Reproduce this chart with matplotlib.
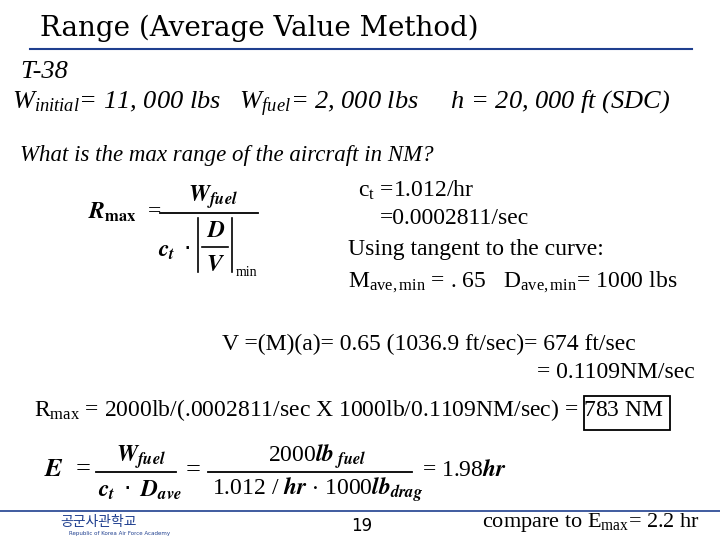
import matplotlib
matplotlib.use("Agg")
import matplotlib.pyplot as plt
from matplotlib.patches import Rectangle

plt.rcParams["mathtext.fontset"] = "stix"
plt.rcParams["mathtext.default"] = "regular"
SERIF = ["Liberation Serif", "DejaVu Serif"]

# slide text lines (x, y in pixels from top-left, text, size, style)
title = "Range (Average Value Method)"
given = [
    (20, 72, "T-38", 19, "italic"),
    (12, 104, r"W$_{initial}$= 11, 000 lbs   W$_{fuel}$= 2, 000 lbs     h = 20, 000 ft (SDC)", 19, "italic"),
    (20, 155, "What is the max range of the aircraft in NM?", 16.5, "italic"),
]
right_lines = [
    (358, 190, r"c$_t$ =1.012/hr", 17),
    (380, 218, "=0.0002811/sec", 17),
    (348, 250, "Using tangent to the curve:", 17),
    (348, 282, r"M$_{ave, min}$ = . 65   D$_{ave, min}$= 1000 lbs", 17),
]
calc_lines = [
    (222, 344, "V =(M)(a)= 0.65 (1036.9 ft/sec)= 674 ft/sec", 17, "left"),
    (695, 372, "= 0.1109NM/sec", 17, "right"),
    (34, 410, r"R$_{max}$ = 2000lb/(.0002811/sec X 1000lb/0.1109NM/sec) = 783 NM", 17, "left"),
]

fig = plt.figure(figsize=(7.2, 5.4), dpi=100, facecolor="white")
ax = fig.add_axes([0, 0, 1, 1])
ax.set_xlim(0, 720)
ax.set_ylim(540, 0)
ax.axis("off")

ax.text(40, 28, title, fontsize=20, family="DejaVu Serif", va="center", ha="left")
ax.plot([30, 692], [49, 49], color="#1f3f8f", lw=1.5)

for x, y, s, sz, st in given:
    ax.text(x, y, s, fontsize=sz, family=SERIF, style=st, va="center", ha="left")

# R_max formula
ax.text(88, 212, r"$\mathbfit{R}_{\mathbf{max}}$  =", fontsize=17, va="center", family=SERIF)
ax.text(188, 197, r"$\mathbfit{W_{fuel}}$", fontsize=17, va="center")
ax.plot([160, 258], [213, 213], color="black", lw=1.3)
ax.text(158, 250, r"$\mathbfit{c_t}\ \cdot$", fontsize=17, va="center")
ax.text(206, 230, r"$\mathbfit{D}$", fontsize=17, va="center")
ax.plot([202, 228], [247, 247], color="black", lw=1.2)
ax.text(206, 264, r"$\mathbfit{V}$", fontsize=17, va="center")
ax.plot([198, 198], [218, 272], color="black", lw=1.2)
ax.plot([232, 232], [218, 272], color="black", lw=1.2)
ax.text(236, 272, "min", fontsize=10, family=SERIF, va="center")

for x, y, s, sz in right_lines:
    ax.text(x, y, s, fontsize=sz, family=SERIF, va="center", ha="left")
for x, y, s, sz, ha in calc_lines:
    ax.text(x, y, s, fontsize=sz, family=SERIF, va="center", ha=ha)
ax.add_patch(Rectangle((584, 396), 86, 34, fill=False, lw=1.3, ec="black"))

# Endurance formula
ax.text(44, 470, r"$\mathbfit{E}$  =", fontsize=19, va="center", family=SERIF)
ax.text(116, 457, r"$\mathbfit{W_{fuel}}$", fontsize=17, va="center")
ax.plot([96, 176], [472, 472], color="black", lw=1.3)
ax.text(98, 490, r"$\mathbfit{c_t}\ \cdot\ \mathbfit{D_{ave}}$", fontsize=17, va="center")
ax.text(186, 470, "=", fontsize=19, va="center", family=SERIF)
ax.text(268, 457, r"2000$\mathbfit{lb}_{\ \mathbfit{fuel}}$", fontsize=17, va="center", family=SERIF)
ax.plot([208, 412], [472, 472], color="black", lw=1.3)
ax.text(212, 490, r"1.012 / $\mathbfit{hr}$ $\cdot$ 1000$\mathbfit{lb}_{\mathbfit{drag}}$", fontsize=17,
        va="center", family=SERIF)
ax.text(422, 470, r"= 1.98$\mathbfit{hr}$", fontsize=17, va="center", family=SERIF)

# footer
ax.plot([0, 720], [511, 511], color="#1f3f8f", lw=1.2)
ax.text(60, 522, "공군사관학교", fontsize=10, color="#1f3f8f", family=["Noto Sans CJK KR"], va="center")
ax.text(120, 533, "Republic of Korea Air Force Academy", fontsize=4, color="#1f3f8f", va="center", ha="center")
ax.text(362, 526, "19", fontsize=12, va="center", ha="center")
ax.text(482, 522, r"compare to E$_{max}$= 2.2 hr", fontsize=16, family=SERIF, va="center")

fig.savefig("out.png", dpi=100)
